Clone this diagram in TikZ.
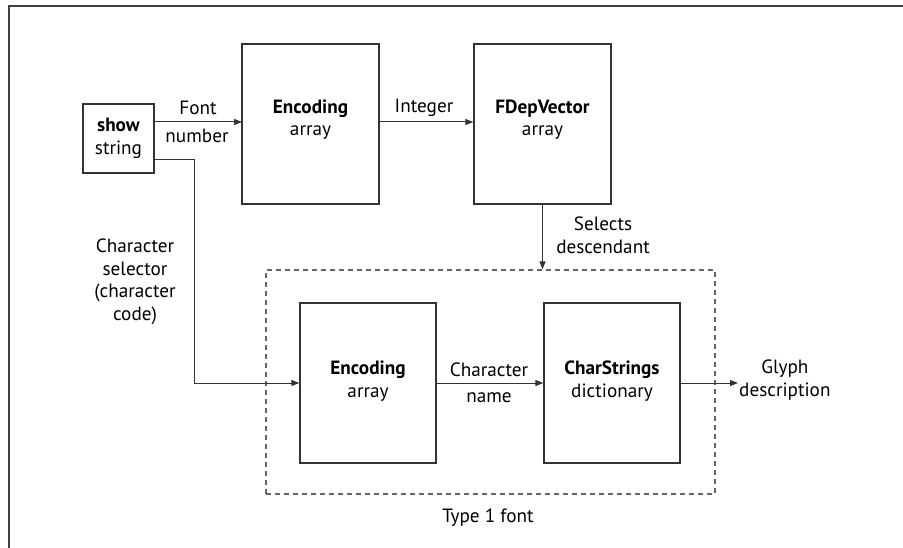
\documentclass[tikz,border=0pt]{standalone}
\usepackage{fontspec}
\setmainfont{PT Sans}
\usetikzlibrary{arrows.meta}
\definecolor{linec}{HTML}{333333}
\definecolor{dashc}{HTML}{666666}
\tikzset{
  box/.style={draw=linec, line width=1.3pt, minimum width=#1, inner sep=0pt},
  txt/.style={inner sep=0pt, align=center, font=\fontsize{19.2}{22.5}\selectfont},
  arr/.style={draw=linec, line width=1pt, -{Triangle[length=8pt,width=6pt]}},
  conn/.style={draw=linec, line width=1pt},
  frameln/.style={draw=black!75, line width=2pt}
}
\begin{document}
\begin{tikzpicture}[x=1pt,y=-1pt]
\useasboundingbox (0,0) rectangle (903,548);
% frame (top and left only)
\draw[frameln] (903,6) -- (9,6) -- (9,548);
% dashed container
\node[draw=dashc, line width=1.2pt, dash pattern=on 5pt off 4pt, minimum width=449pt, minimum height=224pt, inner sep=0pt] (font1) at (490.5,382) {};
% boxes
\node[box=71pt, minimum height=69pt] (show) at (118.5,138.5) {};
\node[box=137pt, minimum height=160pt] (enc1) at (310.5,124) {};
\node[box=137pt, minimum height=160pt] (fdep) at (542.5,124) {};
\node[box=136pt, minimum height=160pt] (enc2) at (368,383) {};
\node[box=136pt, minimum height=160pt] (cs) at (612,383) {};
% box texts
\node[txt] (showt) at (118.5,138.5) {\textbf{show}\\string};
\node[txt] (enc1t) at (310.5,119.5) {\textbf{Encoding}\\array};
\node[txt] (fdept) at (542.5,119.5) {\textbf{FDepVector}\\array};
\node[txt] (enc2t) at (368,381) {\textbf{Encoding}\\array};
\node[txt] (cst) at (612,381) {\textbf{CharStrings}\\dictionary};
% coordinates
\coordinate (a1) at (154,122);
\coordinate (a2) at (242,122);
\coordinate (b1) at (154,160);
\coordinate (b2) at (194,160);
\coordinate (b3) at (194,383);
\coordinate (glyph) at (738,383);
% connectors
\draw[arr] (a1) -- (a2);
\draw[arr] (enc1.east |- a1) -- (fdep.west |- a1);
\draw[arr] (fdep.south) -- (fdep.south |- font1.north);
\draw[conn] (b1) -- (b2) -- (b3);
\draw[arr] (b3) -- (enc2.west);
\draw[arr] (enc2.east) -- (cs.west);
\draw[arr] (cs.east) -- (glyph);
% labels
\node[txt] (lfont) at (198,107.5) {Font};
\node[txt] (lnum) at (197,136) {number};
\node[txt] (lint) at (424,107.5) {Integer};
\node[txt] (lsel) at (603,235.5) {Selects\\descendant};
\node[txt] (lchar) at (489,370) {Character};
\node[txt] (lname) at (489,398) {name};
\node[txt, anchor=west] (lglyph) at ([xshift=1pt,yshift=3pt]glyph) {Glyph\\description};
\node[txt] (lcs) at (135,282) {Character\\selector\\(character\\code)};
\node[txt] (ltype) at (488,518) {Type 1 font};
\end{tikzpicture}
\end{document}
